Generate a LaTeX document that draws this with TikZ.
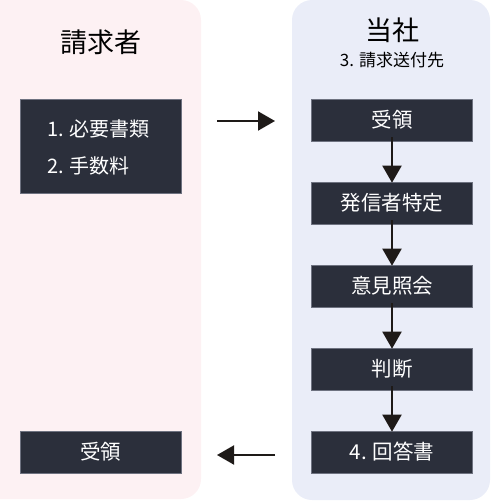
\documentclass[tikz,border=0pt]{standalone}
\usepackage{fontspec}
\setmainfont{Noto Sans CJK JP}
\usetikzlibrary{arrows.meta}
\definecolor{pinkbg}{HTML}{FDF1F3}
\definecolor{bluebg}{HTML}{EAEDF8}
\definecolor{boxfill}{HTML}{2B2F3B}
\definecolor{boxline}{HTML}{6E7280}
\definecolor{arrowc}{HTML}{1E1A18}
\tikzset{
  panel/.style={rounded corners=20pt, draw=none},
  boxfont/.style={font=\fontsize{20.5}{24}\selectfont},
  darkbox/.style={fill=boxfill, draw=boxline, line width=0.6pt, minimum width=161pt, minimum height=42pt, inner sep=0pt, text=white, boxfont},
  listitem/.style={anchor=west, text=white, inner sep=0pt, font=\fontsize{20}{24}\selectfont},
  flow/.style={draw=arrowc, line width=2pt, -{Triangle[length=17pt,width=19pt]}},
}
\begin{document}
\begin{tikzpicture}[x=1pt,y=-1pt]
\useasboundingbox (0,0) rectangle (492,501);
\fill[pinkbg, panel] (-20,0) rectangle (201,499);
\fill[bluebg, panel] (292,0) rectangle (490,500);
\node[font=\fontsize{27}{30}\selectfont] (t1) at (100.5,42) {請求者};
\node[font=\fontsize{27}{30}\selectfont] (t2) at (392,30) {当社};
\node[font=\fontsize{17}{20}\selectfont] (t3) at (392,60) {3. 請求送付先};
\node[darkbox, minimum height=94pt] (docs) at (100.5,146) {};
\node[listitem] (d1) at (47,129) {1. 必要書類};
\node[listitem] (d2) at (47,166) {2. 手数料};
\node[darkbox] (lrec) at (100.5,452) {受領};
\node[darkbox] (r1) at (392,120) {受領};
\node[darkbox] (r2) at (392,203) {発信者特定};
\node[darkbox] (r3) at (392,286) {意見照会};
\node[darkbox] (r4) at (392,369) {判断};
\node[darkbox] (r5) at (392,452) {4. 回答書};
\coordinate (a1s) at (217,121);
\coordinate (a1e) at (275,121);
\draw[flow] (a1s) -- (a1e);
\coordinate (a2s) at (275,455);
\coordinate (a2e) at (217,455);
\draw[flow] (a2s) -- (a2e);
\draw[flow] ([yshift=4pt]r1.south) -- ([yshift=-1pt]r2.north);
\draw[flow] ([yshift=4pt]r2.south) -- ([yshift=-1pt]r3.north);
\draw[flow] ([yshift=4pt]r3.south) -- ([yshift=-1pt]r4.north);
\draw[flow] ([yshift=4pt]r4.south) -- ([yshift=-1pt]r5.north);
\end{tikzpicture}
\end{document}
